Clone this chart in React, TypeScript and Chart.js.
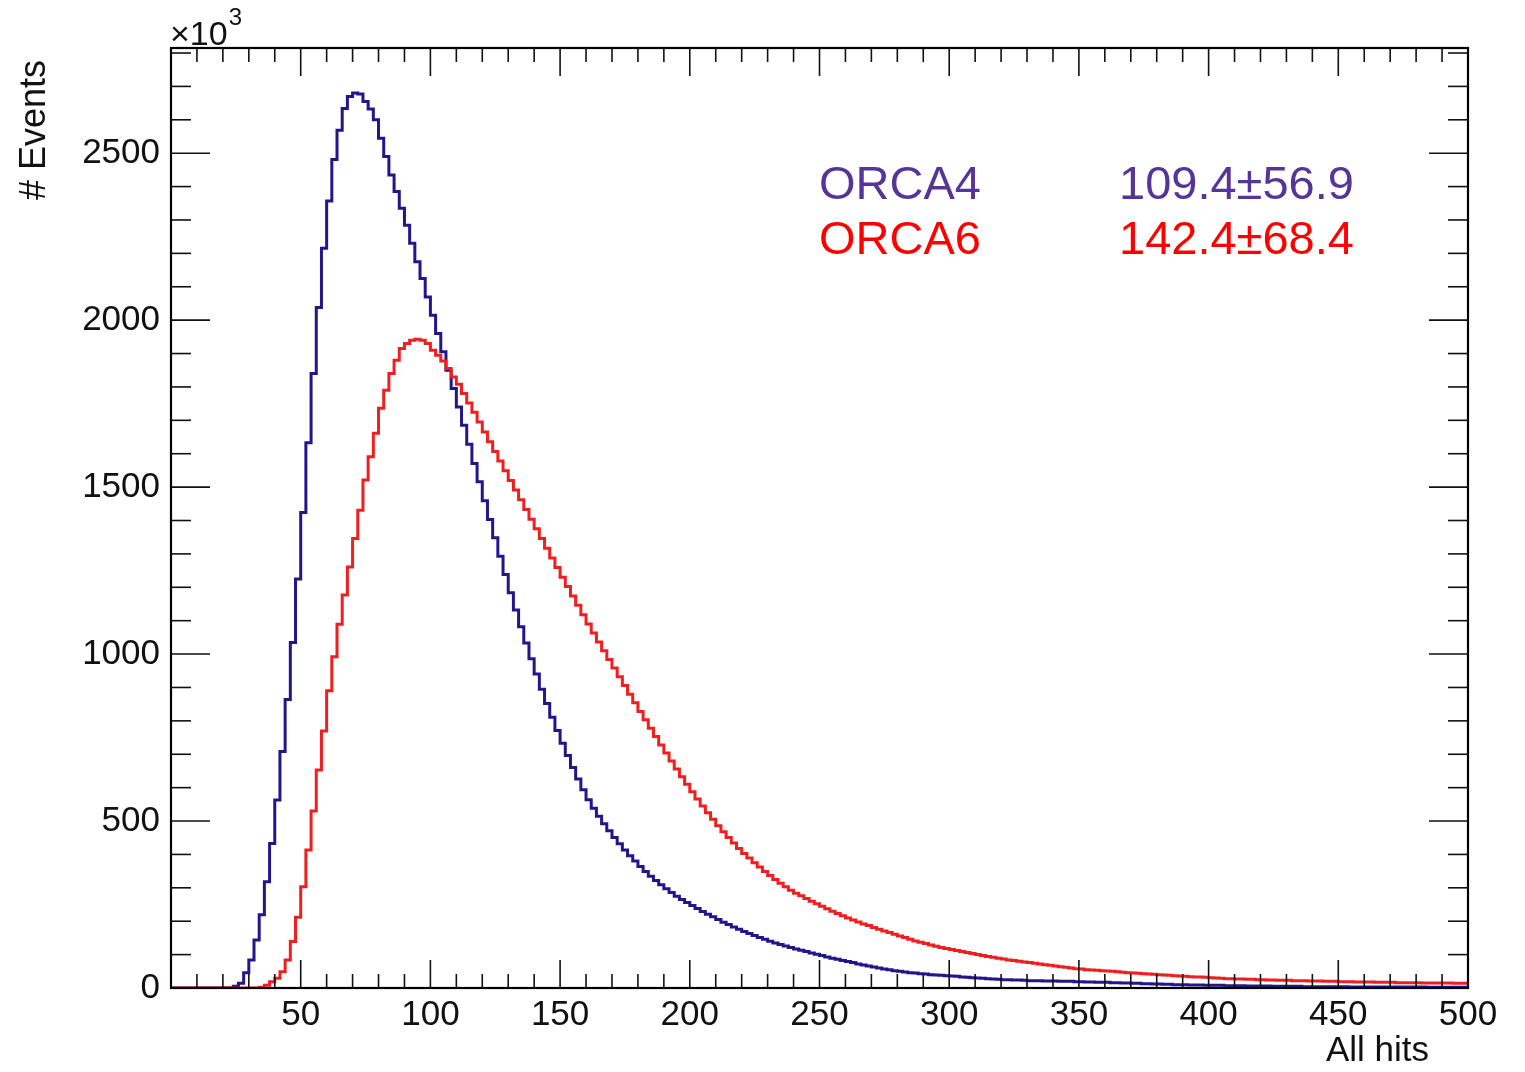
import React, { useEffect, useRef } from "react";
import { Chart, registerables } from "chart.js";

Chart.register(...registerables);

// ---------------- data ----------------
const BIN_WIDTH = 2; // hits per bin
const X_MIN = 0;
const X_MAX = 500;
const Y_MAX = 2815; // in units of 10^3 events
const X_TICK_LABELS = [50, 100, 150, 200, 250, 300, 350, 400, 450, 500];
const Y_TICK_LABELS = [0, 500, 1000, 1500, 2000, 2500];
const SERIES_NAMES = ["ORCA4", "ORCA6"];
const SERIES_STATS = ["109.4\u00B156.9", "142.4\u00B168.4"];
const X_TITLE = "All hits";
const Y_TITLE = "# Events";

// events (x10^3) per bin of 2 hits, bins starting at 0,2,4,...,498
const orca4Counts = [
  0, 0, 0, 0, 0, 0, 0, 0, 0, 0,
  0, 0, 5, 14, 46, 84, 144, 219, 318, 433,
  563, 708, 864, 1035, 1225, 1424, 1633, 1840, 2038, 2215,
  2357, 2481, 2569, 2634, 2670, 2680, 2677, 2655, 2632, 2600,
  2545, 2490, 2435, 2385, 2335, 2284, 2230, 2175, 2125, 2069,
  2015, 1960, 1905, 1850, 1795, 1740, 1685, 1628, 1571, 1516,
  1459, 1403, 1348, 1293, 1238, 1184, 1132, 1082, 1033, 986,
  940, 895, 852, 811, 771, 733, 696, 660, 626, 594,
  564, 538, 514, 492, 471, 451, 432, 413, 396, 380,
  364, 349, 335, 322, 309, 297, 286, 275, 265, 256,
  247, 238, 229, 221, 213, 205, 197, 190, 183, 176,
  169, 163, 157, 151, 146, 140, 135, 130, 126, 121,
  117, 113, 109, 105, 101, 97, 93, 89, 86, 82,
  79, 76, 72, 69, 66, 63, 60, 57, 55, 52,
  50, 48, 46, 45, 43, 42, 40, 39, 38, 37,
  36, 35, 33, 32, 31, 30, 29, 28, 27, 26,
  25, 25, 24, 24, 23, 22, 22, 22, 21, 21,
  21, 20, 20, 20, 19, 19, 18, 18, 17, 17,
  17, 16, 16, 15, 15, 14, 14, 13, 13, 12,
  12, 11, 11, 10, 10, 10, 9, 9, 9, 8,
  8, 8, 8, 7, 7, 7, 7, 6, 6, 6,
  6, 6, 5, 5, 5, 5, 5, 5, 4, 4,
  4, 4, 4, 4, 4, 4, 4, 3, 3, 3,
  3, 3, 3, 3, 3, 3, 3, 3, 3, 3,
  3, 3, 2, 2, 2, 2, 2, 2, 2, 2,
];

const orca6Counts = [
  0, 0, 0, 0, 0, 0, 0, 0, 0, 0,
  0, 0, 0, 0, 0, 0, 0, 2, 8, 19,
  29, 49, 84, 139, 212, 303, 413, 530, 653, 770,
  890, 992, 1089, 1177, 1261, 1346, 1431, 1521, 1591, 1661,
  1736, 1790, 1840, 1880, 1915, 1930, 1940, 1943, 1940, 1930,
  1910, 1895, 1878, 1855, 1830, 1808, 1780, 1752, 1724, 1695,
  1665, 1636, 1607, 1578, 1549, 1520, 1491, 1462, 1433, 1404,
  1375, 1346, 1317, 1288, 1259, 1230, 1202, 1174, 1146, 1118,
  1090, 1063, 1036, 1010, 984, 958, 932, 906, 880, 854,
  828, 803, 778, 753, 728, 704, 680, 656, 633, 610,
  588, 566, 545, 525, 505, 486, 468, 451, 434, 418,
  403, 389, 375, 362, 349, 337, 325, 314, 303, 293,
  284, 276, 268, 260, 252, 245, 237, 230, 223, 216,
  210, 204, 198, 192, 187, 181, 176, 171, 166, 161,
  156, 151, 146, 141, 137, 133, 129, 125, 121, 118,
  115, 112, 109, 106, 103, 100, 97, 94, 92, 89,
  87, 84, 82, 80, 78, 76, 74, 72, 70, 68,
  66, 64, 62, 60, 58, 57, 55, 54, 53, 52,
  51, 50, 49, 47, 46, 45, 44, 43, 42, 41,
  40, 39, 38, 37, 36, 35, 34, 33, 33, 32,
  31, 30, 29, 28, 28, 27, 27, 26, 26, 25,
  25, 24, 24, 23, 23, 23, 22, 22, 22, 21,
  21, 21, 20, 20, 20, 19, 19, 19, 18, 18,
  18, 18, 17, 17, 17, 17, 16, 16, 16, 16,
  16, 15, 15, 15, 15, 15, 15, 14, 14, 14,
];

// ---------------- styling ----------------
const W = 1525;
const H = 1072;
const AREA = { left: 171, top: 48, right: 1468, bottom: 988 };
const FONT = "'Liberation Sans', Arimo, Arial, Helvetica, sans-serif";
const LINE_COLORS = ["#22168c", "#f01f1f"];
const TEXT_COLORS = ["#553597", "#ff0000"];

function toSteps(counts: number[]) {
  const pts = counts.map((c, i) => ({ x: X_MIN + i * BIN_WIDTH, y: c }));
  pts.push({ x: X_MIN + counts.length * BIN_WIDTH, y: counts[counts.length - 1] });
  return pts;
}

const rootStylePlugin = {
  id: "rootStyle",
  afterDatasetsDraw(chart: any) {
    const { ctx, chartArea: a, scales } = chart;
    const xs = scales.x;
    const ys = scales.y;
    ctx.save();
    ctx.strokeStyle = "#111";
    ctx.lineWidth = 1.6;
    const seg = (x1: number, y1: number, x2: number, y2: number) => {
      ctx.beginPath();
      ctx.moveTo(x1, y1);
      ctx.lineTo(x2, y2);
      ctx.stroke();
    };
    // x ticks (inside, bottom and top)
    for (let v = X_MIN; v <= X_MAX; v += 10) {
      const px = xs.getPixelForValue(v);
      const len = v % 50 === 0 ? 28 : 14;
      seg(px, a.bottom, px, a.bottom - len);
      seg(px, a.top, px, a.top + len);
    }
    // y ticks (inside, left and right)
    for (let v = 0; v <= Y_MAX; v += 100) {
      const py = ys.getPixelForValue(v);
      const len = v % 500 === 0 ? 39 : 20;
      seg(a.left, py, a.left + len, py);
      seg(a.right, py, a.right - len, py);
    }
    // frame
    ctx.lineWidth = 2.2;
    ctx.strokeStyle = "#000";
    ctx.strokeRect(a.left, a.top, a.right - a.left, a.bottom - a.top);
    ctx.restore();
  },
  afterDraw(chart: any) {
    const { ctx } = chart;
    ctx.save();
    ctx.fillStyle = "#111";
    // y title
    ctx.font = `36px ${FONT}`;
    ctx.save();
    ctx.translate(45, 60);
    ctx.rotate(-Math.PI / 2);
    ctx.textAlign = "right";
    ctx.textBaseline = "alphabetic";
    ctx.fillText(Y_TITLE, 0, 0);
    ctx.restore();
    // x title
    ctx.font = `35px ${FONT}`;
    ctx.textAlign = "right";
    ctx.textBaseline = "alphabetic";
    ctx.fillText(X_TITLE, 1429, 1061);
    // x10^3
    ctx.textAlign = "left";
    ctx.font = `34px ${FONT}`;
    const base = "\u00D710";
    ctx.fillText(base, 170, 45);
    const bw = ctx.measureText(base).width;
    ctx.font = `24px ${FONT}`;
    ctx.fillText("3", 170 + bw + 1, 25);
    // legend entries
    ctx.font = `47px ${FONT}`;
    const baselines = [199, 254];
    SERIES_NAMES.forEach((name, i) => {
      ctx.fillStyle = TEXT_COLORS[i];
      ctx.fillText(name, 819, baselines[i]);
      ctx.fillText(SERIES_STATS[i], 1119, baselines[i]);
    });
    ctx.restore();
  },
};

export default function App() {
  const canvasRef = useRef<HTMLCanvasElement | null>(null);

  useEffect(() => {
    const canvas = canvasRef.current;
    if (!canvas) return;
    const tickFont = { family: FONT, size: 35 };
    const chart = new Chart(canvas, {
      type: "line",
      data: {
        datasets: [
          {
            label: SERIES_NAMES[0],
            data: toSteps(orca4Counts),
            borderColor: LINE_COLORS[0],
            borderWidth: 3,
            pointRadius: 0,
            stepped: true,
            fill: false,
            order: 1,
          },
          {
            label: SERIES_NAMES[1],
            data: toSteps(orca6Counts),
            borderColor: LINE_COLORS[1],
            borderWidth: 3,
            pointRadius: 0,
            stepped: true,
            fill: false,
            order: 0,
          },
        ],
      },
      options: {
        responsive: false,
        animation: false,
        devicePixelRatio: 1,
        events: [],
        layout: {
          padding: { left: 0, top: AREA.top, right: W - AREA.right, bottom: 0 },
        },
        plugins: {
          legend: { display: false },
          tooltip: { enabled: false },
        },
        scales: {
          x: {
            type: "linear",
            min: X_MIN,
            max: X_MAX,
            grid: { display: false, drawTicks: false },
            border: { display: false },
            afterFit: (s: any) => {
              s.height = H - AREA.bottom;
            },
            afterBuildTicks: (s: any) => {
              s.ticks = X_TICK_LABELS.map((v) => ({ value: v }));
            },
            ticks: {
              autoSkip: false,
              maxRotation: 0,
              minRotation: 0,
              padding: 6,
              color: "#111",
              font: tickFont,
              callback: (v: any) => String(v),
            },
          },
          y: {
            type: "linear",
            min: 0,
            max: Y_MAX,
            grid: { display: false, drawTicks: false },
            border: { display: false },
            afterFit: (s: any) => {
              s.width = AREA.left;
            },
            afterBuildTicks: (s: any) => {
              s.ticks = Y_TICK_LABELS.map((v) => ({ value: v }));
            },
            ticks: {
              padding: 11,
              color: "#111",
              font: tickFont,
              callback: (v: any) => String(v),
            },
          },
        },
      },
      plugins: [rootStylePlugin],
    } as any);
    return () => chart.destroy();
  }, []);

  return (
    <div
      style={{
        position: "fixed",
        left: 0,
        top: 0,
        width: W,
        height: H,
        background: "#fff",
      }}
    >
      <canvas ref={canvasRef} width={W} height={H} style={{ display: "block" }} />
    </div>
  );
}
